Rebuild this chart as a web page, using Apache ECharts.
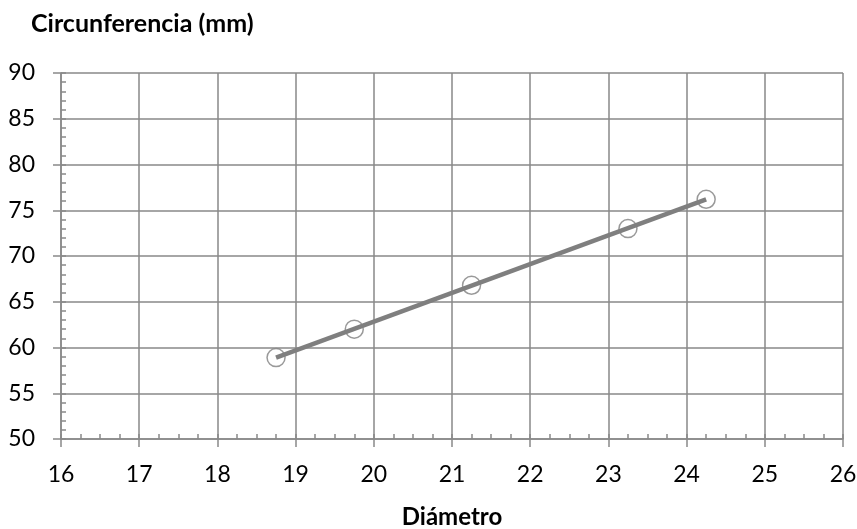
<!DOCTYPE html>
<html>
<head>
<meta charset="utf-8">
<script src="https://cdn.jsdelivr.net/npm/echarts@6/dist/echarts.min.js"></script>
<style>
html,body{margin:0;padding:0;background:#fff;}
#c{width:857px;height:529px;}
</style>
</head>
<body>
<div id="c"></div>
<script>
// Data
const diametro = [18.75, 19.75, 21.25, 23.25, 24.25];
const circunferencia = [58.9, 62.0, 66.8, 73.0, 76.2];
// Trendline endpoints
const trendX = [18.75, 24.25];
const trendY = [58.9, 76.2];
const xTicks = [16, 17, 18, 19, 20, 21, 22, 23, 24, 25, 26];
const yTicks = [50, 55, 60, 65, 70, 75, 80, 85, 90];

const FONT = 'Lato';
const GRID = '#898989';
const points = diametro.map((x, i) => [x, circunferencia[i]]);
const trend = trendX.map((x, i) => [x, trendY[i]]);

const chart = echarts.init(document.getElementById('c'), null, {renderer: 'canvas'});
chart.setOption({
  animation: false,
  backgroundColor: '#ffffff',
  title: {
    text: 'Circunferencia (mm)',
    left: 26, top: 6,
    textStyle: {fontFamily: FONT, fontWeight: 'bold', fontSize: 25, color: '#000'}
  },
  grid: {left: 61, right: 14, top: 73, bottom: 90, containLabel: false, outerBoundsMode: 'none'},
  xAxis: [{
    type: 'value', min: xTicks[0], max: xTicks[xTicks.length - 1], interval: 1,
    position: 'bottom',
    name: 'Diámetro', nameLocation: 'middle', nameGap: 66,
    nameTextStyle: {fontFamily: FONT, fontWeight: 'bold', fontSize: 24, color: '#000'},
    axisLine: {show: true, lineStyle: {color: GRID, width: 1.5}},
    axisTick: {show: true, length: 8, lineStyle: {color: GRID, width: 1.5}},
    axisLabel: {fontFamily: FONT, fontSize: 23, color: '#000', margin: 24},
    splitLine: {show: true, lineStyle: {color: GRID, width: 1.5}}
  }, {
    type: 'value', min: xTicks[0], max: xTicks[xTicks.length - 1], interval: 0.25,
    position: 'bottom',
    axisLine: {show: false},
    axisTick: {show: true, inside: true, length: 5, lineStyle: {color: GRID, width: 1.5}},
    axisLabel: {show: false},
    splitLine: {show: false}
  }],
  yAxis: [{
    type: 'value', min: yTicks[0], max: yTicks[yTicks.length - 1], interval: 5,
    position: 'left',
    axisLine: {show: true, lineStyle: {color: GRID, width: 1.5}},
    axisTick: {show: true, length: 8, lineStyle: {color: GRID, width: 1.5}},
    axisLabel: {fontFamily: FONT, fontSize: 23, color: '#000', margin: 26},
    splitLine: {show: true, lineStyle: {color: GRID, width: 1.5}}
  }, {
    type: 'value', min: yTicks[0], max: yTicks[yTicks.length - 1], interval: 1,
    position: 'left', offset: 0,
    axisLine: {show: false},
    axisTick: {show: true, inside: true, length: 5, lineStyle: {color: GRID, width: 1.5}},
    axisLabel: {show: false},
    splitLine: {show: false}
  }],
  series: [{
    type: 'scatter',
    xAxisIndex: 0, yAxisIndex: 0,
    data: points,
    symbol: 'circle', symbolSize: 18,
    itemStyle: {color: '#ffffff', borderColor: '#808080', borderWidth: 1.5},
    z: 2
  }, {
    type: 'line',
    xAxisIndex: 0, yAxisIndex: 0,
    data: trend,
    showSymbol: false, symbol: 'none',
    lineStyle: {color: '#7f7f7f', width: 4.5},
    z: 3
  }]
});
</script>
</body>
</html>
